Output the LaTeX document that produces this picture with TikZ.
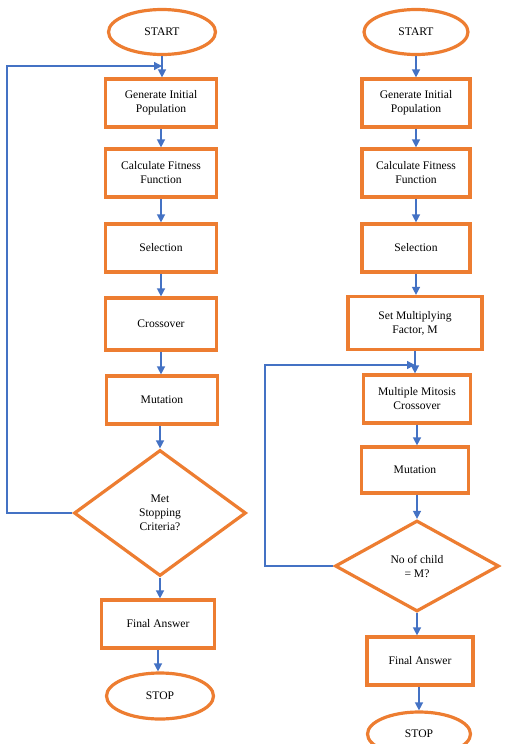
\documentclass[tikz,border=0pt]{standalone}
\usepackage{fontspec}
\setmainfont{Liberation Serif}
\usetikzlibrary{shapes.geometric,arrows.meta}
\definecolor{borange}{RGB}{237,125,49}
\definecolor{lblue}{RGB}{68,114,196}
\tikzset{
  base/.style={draw=borange,line width=3.2pt,fill=white,font=\fontsize{11.6}{14}\selectfont,align=center,inner sep=1pt},
  procbox/.style={base,rectangle,minimum width=#1,minimum height=48pt},
  term/.style={base,ellipse,minimum width=107pt,minimum height=45pt},
  decide/.style={base,diamond,inner sep=0pt},
  conn/.style={draw=lblue,line width=1.4pt,-{Triangle[length=8pt,width=8pt]}},
}
\begin{document}
\begin{tikzpicture}[x=1pt,y=-1pt]
\useasboundingbox (0,0) rectangle (504,744);
% left column
\node[term] (sL) at (162,32) {START};
\node[procbox=111pt] (gL) at (161,103) {Generate Initial\\Population};
\node[procbox=111pt] (cL) at (161,173) {Calculate Fitness\\Function};
\node[procbox=111pt] (selL) at (161,248) {Selection};
\node[procbox=111pt,minimum height=52pt] (xL) at (161,324) {Crossover};
\node[procbox=111pt] (mL) at (162,400) {Mutation};
\node[decide,minimum width=172pt,minimum height=126pt] (dL) at (160,513) {Met\\Stopping\\Criteria?};
\node[procbox=113pt] (fL) at (158,624) {Final Answer};
\node[term,minimum width=107pt,minimum height=46pt] (tL) at (160,696) {STOP};
\coordinate (lc1) at (7,513);
\coordinate (lc2) at (7,66);
\coordinate (lc3) at (162,66);
\draw[conn] (sL.south) -- (sL.south |- gL.north);
\draw[conn] (gL.south) -- (gL.south |- cL.north);
\draw[conn] (cL.south) -- (cL.south |- selL.north);
\draw[conn] (selL.south) -- (selL.south |- xL.north);
\draw[conn] (xL.south) -- (xL.south |- mL.north);
\draw[conn] (mL.south -| dL.north) -- (dL.north);
\draw[conn] (dL.south) -- (dL.south |- fL.north);
\draw[conn] (fL.south) -- (fL.south |- tL.north);
\draw[conn] (dL.west) -- (lc1) -- (lc2) -- (lc3);
% right column
\node[term,minimum width=104pt] (sR) at (416,32) {START};
\node[procbox=108pt] (gR) at (416,103) {Generate Initial\\Population};
\node[procbox=108pt] (cR) at (416,173) {Calculate Fitness\\Function};
\node[procbox=108pt] (selR) at (416,248) {Selection};
\node[procbox=134pt,minimum height=53pt] (fmR) at (415,323) {Set Multiplying\\Factor, M};
\node[procbox=107pt] (mmR) at (417,399) {Multiple Mitosis\\Crossover};
\node[procbox=107pt,minimum height=46pt] (mR) at (415,470) {Mutation};
\node[decide,minimum width=164pt,minimum height=91pt] (dR) at (417,566) {No of child\\= M?};
\node[procbox=106pt] (fR) at (420,661) {Final Answer};
\node[term,minimum width=103pt,minimum height=44pt] (tR) at (419,734) {STOP};
\coordinate (rc1) at (265,566);
\coordinate (rc2) at (265,365);
\coordinate (rc3) at (415,365);
\draw[conn] (sR.south) -- (sR.south |- gR.north);
\draw[conn] (gR.south) -- (gR.south |- cR.north);
\draw[conn] (cR.south) -- (cR.south |- selR.north);
\draw[conn] (selR.south) -- (selR.south |- fmR.north);
\draw[conn] (fmR.south) -- (fmR.south |- mmR.north);
\draw[conn] (mmR.south) -- (mmR.south |- mR.north);
\draw[conn] (mR.south -| dR.north) -- (dR.north);
\draw[conn] (dR.south) -- (dR.south |- fR.north);
\draw[conn] (fR.south -| tR.north) -- (tR.north);
\draw[conn] (dR.west) -- (rc1) -- (rc2) -- (rc3);
\end{tikzpicture}
\end{document}
